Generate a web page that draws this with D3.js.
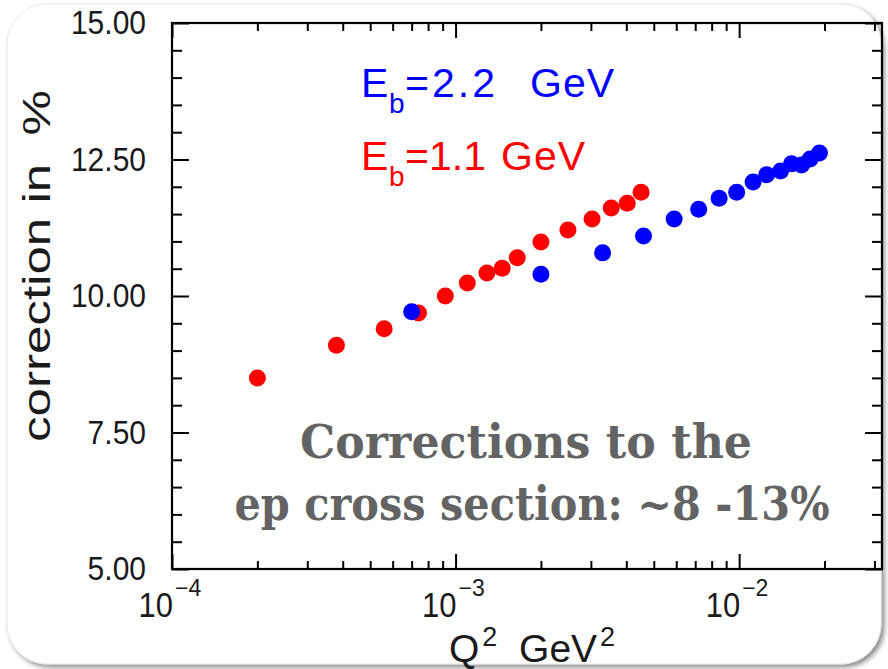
<!DOCTYPE html>
<html>
<head>
<meta charset="utf-8">
<script src="https://cdn.jsdelivr.net/npm/d3@7"></script>
<style>
    html, body { margin: 0; padding: 0; background: #fff; }
    svg { display: block; }
    text { font-family: 'Liberation Sans', Arial, Helvetica, sans-serif; }
</style>
</head>
<body>
<svg id="chart"></svg>
<script>
// Eb = 1.1 GeV (red).
const lowQ2 = [2.0e-4, 3.8e-4, 5.6e-4, 7.4e-4, 9.2e-4, 1.10e-3, 1.29e-3, 1.46e-3, 1.65e-3, 2.0e-3, 2.49e-3, 3.03e-3, 3.54e-3, 4.03e-3, 4.51e-3];
const lowCorr = [8.50, 9.10, 9.40, 9.69, 10.00, 10.24, 10.42, 10.51, 10.70, 10.99, 11.21, 11.41, 11.61, 11.70, 11.90];

// Eb = 2.2 GeV (blue).
const highQ2 = [7.0e-4, 2.0e-3, 3.3e-3, 4.6e-3, 5.9e-3, 7.2e-3, 8.5e-3, 9.8e-3, 1.12e-2, 1.25e-2, 1.40e-2, 1.53e-2, 1.66e-2, 1.78e-2, 1.92e-2];
const highCorr = [9.71, 10.40, 10.79, 11.10, 11.41, 11.59, 11.79, 11.90, 12.09, 12.22, 12.29, 12.42, 12.40, 12.51, 12.62];

// Tick values and labels.
const xDecades = [1e-4, 1e-3, 1e-2];
const xExponents = ['\u22124', '\u22123', '\u22122'];
const yMajor = [5, 7.5, 10, 12.5, 15];
const yMajorLabels = ['5.00', '7.50', '10.00', '12.50', '15.00'];
const noteLines = ['Corrections to the', 'ep cross section: ~8 -13%'];

const width = 888;
const height = 669;
const marginLeft = 172;
const marginRight = 6;
const marginTop = 23;
const marginBottom = 100;

const svg = d3.select('#chart').attr('width', width).attr('height', height);

// Card with a soft shadow.
const defs = svg.append('defs');
const shadow = defs.append('filter').attr('id', 'shadow').attr('x', '-5%').attr('y', '-5%').attr('width', '110%').attr('height', '110%');
shadow.append('feDropShadow').attr('dx', 3).attr('dy', 3).attr('stdDeviation', 2.5).attr('flood-color', '#000').attr('flood-opacity', 0.45);

svg.append('rect')
    .attr('x', 7)
    .attr('y', 4)
    .attr('width', 874)
    .attr('height', 660)
    .attr('rx', 40)
    .attr('fill', '#fff')
    .attr('stroke', '#e8e8e8')
    .attr('filter', 'url(#shadow)');

// X scale.
const x = d3
    .scaleLog()
    .domain([1e-4, 0.0319])
    .range([marginLeft, width - marginRight]);

// Y scale.
const y = d3
    .scaleLinear()
    .domain([5, 15])
    .range([height - marginBottom, marginTop]);

const xRight = width - marginRight;
const yBottom = height - marginBottom;

// Minor x ticks: 2..9 in each decade inside the domain.
const xMinor = [];
[1e-4, 1e-3, 1e-2].forEach(d => {
    for (let k = 2; k <= 9; k++) if (d * k < 0.0319) xMinor.push(d * k);
});
const yMinor = d3.range(5, 15.01, 0.5).filter(v => yMajor.indexOf(v) < 0);

const axisStyle = g => {
    g.select('.domain').remove();
    g.selectAll('line').attr('stroke', '#000').attr('stroke-width', 2);
};

// Bottom and top axes (ticks pointing inward).
svg.append('g').attr('transform', `translate(0, ${yBottom})`)
    .call(d3.axisBottom(x).tickValues(xMinor).tickSize(-8).tickFormat('')).call(axisStyle);
svg.append('g').attr('transform', `translate(0, ${yBottom})`)
    .call(d3.axisBottom(x).tickValues(xDecades).tickSize(-15).tickFormat('')).call(axisStyle);
svg.append('g').attr('transform', `translate(0, ${marginTop})`)
    .call(d3.axisTop(x).tickValues(xMinor).tickSize(-8).tickFormat('')).call(axisStyle);
svg.append('g').attr('transform', `translate(0, ${marginTop})`)
    .call(d3.axisTop(x).tickValues(xDecades).tickSize(-15).tickFormat('')).call(axisStyle);

// Left and right axes.
svg.append('g').attr('transform', `translate(${marginLeft}, 0)`)
    .call(d3.axisLeft(y).tickValues(yMinor).tickSize(-10).tickFormat('')).call(axisStyle);
svg.append('g').attr('transform', `translate(${marginLeft}, 0)`)
    .call(d3.axisLeft(y).tickValues(yMajor).tickSize(-17).tickFormat('')).call(axisStyle);
svg.append('g').attr('transform', `translate(${xRight}, 0)`)
    .call(d3.axisRight(y).tickValues(yMinor).tickSize(-10).tickFormat('')).call(axisStyle);
svg.append('g').attr('transform', `translate(${xRight}, 0)`)
    .call(d3.axisRight(y).tickValues(yMajor).tickSize(-17).tickFormat('')).call(axisStyle);

// Frame.
svg.append('rect')
    .attr('x', marginLeft)
    .attr('y', marginTop)
    .attr('width', xRight - marginLeft)
    .attr('height', yBottom - marginTop)
    .attr('fill', 'none')
    .attr('stroke', '#000')
    .attr('stroke-width', 2.2);

// Y tick labels.
svg.append('g')
    .selectAll('text')
    .data(yMajor)
    .enter()
    .append('text')
    .attr('transform', d => `translate(146, ${y(d) + 11}) scale(1, 1.12)`)
    .attr('text-anchor', 'end')
    .attr('font-size', 30)
    .attr('fill', '#1a1a1a')
    .text((d, i) => yMajorLabels[i]);

// X tick labels: 10 with exponent.
const xLab = svg.append('g')
    .selectAll('g')
    .data(xDecades)
    .enter()
    .append('g')
    .attr('transform', d => `translate(${x(d)}, 0)`);
xLab.append('text')
    .attr('transform', 'translate(1, 617) scale(1, 1.15)')
    .attr('text-anchor', 'end')
    .attr('font-size', 31)
    .attr('fill', '#1a1a1a')
    .text('10');
xLab.append('text')
    .attr('x', 3)
    .attr('y', 596)
    .attr('font-size', 23)
    .attr('fill', '#1a1a1a')
    .text((d, i) => xExponents[i]);

// X axis label.
const xTitle = svg.append('text')
    .attr('x', 449)
    .attr('y', 662)
    .attr('font-size', 39)
    .attr('fill', '#1a1a1a');
xTitle.append('tspan').text('Q');
xTitle.append('tspan').attr('font-size', 27).attr('dx', 3).attr('dy', -16).text('2');
xTitle.append('tspan').attr('dy', 16).text('\u00a0\u00a0GeV');
xTitle.append('tspan').attr('font-size', 27).attr('dx', 3).attr('dy', -16).text('2');

// Y axis label.
svg.append('text')
    .attr('transform', 'translate(50, 266) rotate(-90)')
    .attr('text-anchor', 'middle')
    .attr('font-size', 38)
    .attr('textLength', 352)
    .attr('lengthAdjust', 'spacingAndGlyphs')
    .attr('fill', '#1a1a1a')
    .text('correction in\u00a0\u00a0%');

// Points: 1.1 GeV first, 2.2 GeV drawn on top.
svg.append('g')
    .selectAll('circle')
    .data(d3.zip(lowQ2, lowCorr))
    .enter()
    .append('circle')
    .attr('cx', d => x(d[0]))
    .attr('cy', d => y(d[1]))
    .attr('r', 8.5)
    .attr('fill', '#ff0000');

svg.append('g')
    .selectAll('circle')
    .data(d3.zip(highQ2, highCorr))
    .enter()
    .append('circle')
    .attr('cx', d => x(d[0]))
    .attr('cy', d => y(d[1]))
    .attr('r', 8.5)
    .attr('fill', '#0000ff');

// Legend entries.
const legend = [
    { color: '#0000ff', value: '2.2', base: 97, gev: 530, spacing: 3 },
    { color: '#ff0000', value: '1.1', base: 170, gev: 501, spacing: 0 },
];
legend.forEach(l => {
    const t = svg.append('text').attr('y', l.base).attr('font-size', 41).attr('fill', l.color);
    t.append('tspan').attr('x', 361).text('E');
    t.append('tspan').attr('x', 389).attr('dy', 16).attr('font-size', 28).text('b');
    t.append('tspan').attr('x', 405).attr('dy', -16).attr('letter-spacing', l.spacing).text('=' + l.value);
    t.append('tspan').attr('x', l.gev).attr('letter-spacing', 1).text('GeV');
});

// Annotation.
svg.append('g')
    .selectAll('text')
    .data(noteLines)
    .enter()
    .append('text')
    .attr('transform', (d, i) => `translate(${[526, 532][i]}, ${[458, 520][i]}) scale(1, 1.18)`)
    .attr('text-anchor', 'middle')
    .attr('textLength', (d, i) => [452, 595][i])
    .attr('lengthAdjust', 'spacingAndGlyphs')
    .style('font-family', "'DejaVu Serif', 'Liberation Serif', serif")
    .attr('font-weight', 'bold')
    .attr('font-size', 40)
    .attr('fill', '#636363')
    .text(d => d);
</script>
</body>
</html>
